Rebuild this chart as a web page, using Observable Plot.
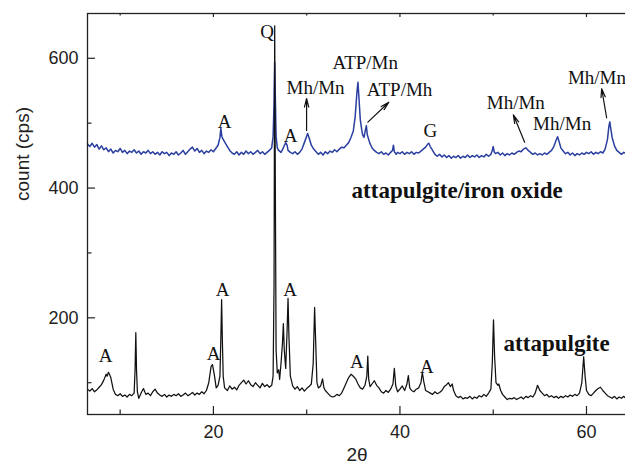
<!DOCTYPE html>
<html><head><meta charset="utf-8">
<script src="https://cdn.jsdelivr.net/npm/d3@7"></script>
<script src="https://cdn.jsdelivr.net/npm/@observablehq/plot@0.6"></script>
<style>body{margin:0;background:#fff}#chart{width:625px;height:471px;overflow:hidden}</style>
</head><body><div id="chart"></div>
<script>
// 2θ (deg), count (cps) — attapulgite (black)
const attapulgite = [
[6.5,90],[6.75,87],[7.0,91],[7.25,86],[7.5,89],[7.75,93],[8.0,97],[8.25,104],[8.5,113],[8.6,110],[8.75,116],[9.0,108],[9.25,90],[9.5,82],[9.75,80],
[10.0,83],[10.25,79],[10.5,81],[10.75,78],[11.0,82],[11.25,80],[11.5,84],[11.6,120],[11.68,177],[11.76,118],[11.85,86],[12.0,76],[12.25,84],[12.5,91],[12.75,82],
[13.0,84],[13.25,80],[13.5,86],[13.75,90],[14.0,84],[14.25,81],[14.5,79],[14.75,82],[15.0,78],[15.25,81],[15.5,79],[15.75,82],[16.0,80],[16.25,83],[16.5,79],
[16.75,81],[17.0,84],[17.25,80],[17.5,82],[17.75,85],[18.0,81],[18.25,84],[18.5,82],[18.75,86],[19.0,83],[19.25,88],[19.5,100],[19.75,125],[19.9,128],[20.1,112],
[20.3,92],[20.5,96],[20.7,110],[20.8,170],[20.88,228],[20.96,165],[21.05,110],[21.2,92],[21.5,88],[21.75,95],[22.0,90],[22.25,93],[22.5,89],[22.75,96],[23.0,100],
[23.25,104],[23.5,98],[23.75,103],[24.0,97],[24.25,94],[24.5,100],[24.75,96],[25.0,92],[25.25,99],[25.5,94],[25.75,97],[26.0,93],[26.25,96],[26.4,110],[26.5,250],
[26.57,650],[26.64,400],[26.72,150],[26.85,115],[27.0,120],[27.1,105],[27.25,130],[27.4,160],[27.5,191],[27.6,150],[27.75,122],[27.9,180],[28.0,230],[28.1,170],[28.25,110],
[28.5,95],[28.75,90],[29.0,94],[29.25,88],[29.5,92],[29.75,87],[30.0,91],[30.25,94],[30.5,98],[30.7,130],[30.85,216],[30.95,170],[31.1,100],[31.25,92],[31.5,95],
[31.7,106],[31.85,92],[32.0,88],[32.25,84],[32.5,80],[32.75,78],[33.0,79],[33.25,82],[33.5,80],[33.75,84],[34.0,92],[34.25,100],[34.5,108],[34.75,113],[35.0,110],
[35.25,106],[35.5,98],[35.75,92],[36.0,90],[36.25,96],[36.45,110],[36.55,141],[36.65,105],[36.8,94],[37.0,98],[37.25,103],[37.5,96],[37.75,92],[38.0,86],[38.25,84],
[38.5,88],[38.75,85],[39.0,90],[39.25,98],[39.4,122],[39.55,95],[39.75,86],[40.0,90],[40.25,95],[40.5,88],[40.75,98],[40.9,111],[41.05,92],[41.25,88],[41.5,86],
[41.75,90],[42.0,92],[42.25,100],[42.4,116],[42.55,102],[42.75,88],[43.0,86],[43.25,84],[43.5,82],[43.75,86],[44.0,83],[44.25,85],[44.5,88],[44.75,94],[45.0,97],
[45.2,100],[45.4,94],[45.6,98],[45.75,88],[46.0,80],[46.25,77],[46.5,79],[46.75,75],[47.0,77],[47.25,76],[47.5,79],[47.75,75],[48.0,78],[48.25,76],[48.5,80],
[48.75,78],[49.0,82],[49.25,79],[49.5,84],[49.75,90],[49.9,130],[50.03,197],[50.15,140],[50.3,100],[50.5,96],[50.6,98],[50.8,88],[51.0,82],[51.25,78],[51.5,74],
[51.75,76],[52.0,75],[52.25,77],[52.5,74],[52.75,76],[53.0,78],[53.25,75],[53.5,79],[53.75,77],[54.0,80],[54.25,78],[54.5,84],[54.75,96],[55.0,88],[55.25,84],
[55.5,80],[55.75,82],[56.0,78],[56.25,80],[56.5,77],[56.75,79],[57.0,76],[57.25,79],[57.5,77],[57.75,80],[58.0,78],[58.25,81],[58.5,79],[58.75,82],[59.0,80],
[59.25,84],[59.5,100],[59.7,140],[59.85,110],[60.0,88],[60.25,82],[60.5,80],[60.75,84],[61.0,88],[61.25,91],[61.5,93],[61.75,88],[62.0,84],[62.25,80],[62.5,78],
[62.75,76],[63.0,79],[63.25,75],[63.5,78],[63.75,76],[64.0,79],[64.25,75]
];
// 2θ (deg), count (cps) — attapulgite/iron oxide (blue)
const ironOxide = [
[6.5,468],[6.75,464],[7.0,469],[7.25,463],[7.5,467],[7.75,460],[8.0,465],[8.25,459],[8.5,462],[8.75,456],[9.0,460],[9.25,454],[9.5,458],[9.75,456],[10.0,461],
[10.25,455],[10.5,458],[10.75,453],[11.0,457],[11.25,455],[11.5,459],[11.75,454],[12.0,457],[12.25,452],[12.5,456],[12.75,454],[13.0,458],[13.25,453],[13.5,456],
[13.75,452],[14.0,455],[14.25,451],[14.5,456],[14.75,453],[15.0,455],[15.25,450],[15.5,454],[15.75,452],[16.0,456],[16.25,451],[16.5,454],[16.75,458],[17.0,452],
[17.25,456],[17.5,460],[17.75,463],[18.0,457],[18.25,461],[18.5,455],[18.75,458],[19.0,453],[19.25,457],[19.5,455],[19.75,459],[20.0,456],[20.25,461],[20.5,466],
[20.7,478],[20.8,492],[20.9,480],[21.0,476],[21.25,470],[21.5,464],[21.75,458],[22.0,454],[22.25,452],[22.5,456],[22.75,451],[23.0,455],[23.25,452],[23.5,457],
[23.75,453],[24.0,456],[24.25,452],[24.5,455],[24.75,458],[25.0,453],[25.25,456],[25.5,452],[25.75,455],[26.0,458],[26.25,462],[26.4,480],[26.5,530],[26.57,594],
[26.64,540],[26.72,480],[26.85,462],[27.0,458],[27.25,455],[27.5,462],[27.75,470],[27.9,466],[28.0,458],[28.25,455],[28.5,453],[28.75,456],[29.0,452],[29.25,455],
[29.5,460],[29.75,470],[30.0,480],[30.1,484],[30.25,478],[30.5,466],[30.75,460],[31.0,456],[31.25,452],[31.5,455],[31.75,451],[32.0,456],[32.25,453],[32.5,457],
[32.75,455],[33.0,459],[33.25,456],[33.5,460],[33.75,463],[34.0,462],[34.25,466],[34.5,470],[34.75,478],[35.0,488],[35.2,510],[35.4,550],[35.5,563],[35.6,540],
[35.75,505],[35.9,490],[36.0,482],[36.15,478],[36.3,490],[36.4,496],[36.5,482],[36.75,470],[37.0,462],[37.25,458],[37.5,455],[37.75,453],[38.0,456],[38.25,452],
[38.5,454],[38.75,451],[39.0,455],[39.2,458],[39.3,466],[39.4,456],[39.6,452],[39.75,455],[40.0,453],[40.25,456],[40.5,452],[40.75,455],[41.0,453],[41.25,456],
[41.5,452],[41.75,455],[42.0,454],[42.25,457],[42.5,460],[42.75,463],[43.0,468],[43.1,469],[43.25,464],[43.5,458],[43.75,452],[44.0,449],[44.25,452],[44.5,448],
[44.75,451],[45.0,447],[45.25,450],[45.5,446],[45.75,449],[46.0,447],[46.25,450],[46.5,446],[46.75,449],[47.0,447],[47.25,451],[47.5,447],[47.75,450],[48.0,448],
[48.25,451],[48.5,447],[48.75,450],[49.0,448],[49.25,452],[49.5,449],[49.75,452],[49.9,458],[50.0,464],[50.1,456],[50.25,453],[50.5,455],[50.75,451],[51.0,454],
[51.25,450],[51.5,453],[51.75,451],[52.0,454],[52.25,452],[52.5,455],[52.75,457],[53.0,456],[53.25,460],[53.5,462],[53.75,458],[54.0,455],[54.25,452],[54.5,454],
[54.75,451],[55.0,453],[55.25,451],[55.5,454],[55.75,452],[56.0,455],[56.25,458],[56.5,464],[56.75,474],[56.9,479],[57.05,472],[57.25,462],[57.5,457],[57.75,453],
[58.0,455],[58.25,451],[58.5,454],[58.75,450],[59.0,453],[59.25,451],[59.5,454],[59.75,452],[60.0,455],[60.25,453],[60.5,456],[60.75,452],[61.0,455],[61.25,453],
[61.5,456],[61.75,454],[62.0,460],[62.25,475],[62.4,495],[62.5,502],[62.6,492],[62.75,478],[63.0,465],[63.25,458],[63.5,455],[63.75,452],[64.0,455],[64.25,453]
];
const xTicks = [20, 40, 60];
const xMinorTicks = [10, 30, 50];
const yTicks = [200, 400, 600];
const yMinorTicks = [100, 300, 500];
// peak labels: [2θ, count, text]
const peakLabels = [
[25.77,630.5,"Q"],[21.19,491.8,"A"],[28.27,470.7,"A"],[30.95,544.2,"Mh/Mn"],[36.28,582.7,"ATP/Mn"],
[39.96,541.6,"ATP/Mh"],[43.25,478.4,"G"],[52.42,522.1,"Mh/Mn"],[57.39,488.7,"Mh/Mn"],[61.12,560.7,"Mh/Mn"],
[8.43,131.6,"A"],[20.01,134.3,"A"],[20.98,232.9,"A"],[28.22,232.9,"A"],[35.38,122.4,"A"],[42.89,115.3,"A"]
];
const sampleLabels = [[46.13,385.4,"attapulgite/iron oxide"],[56.8,148.6,"attapulgite"]];
// arrows: [2θ from, count from, 2θ to, count to]
const arrows = [
[29.99,488.7,29.99,538],[36.56,501.5,38.81,532.3],[53.37,470.7,52.16,512.9],[62.16,508.3,61.63,553.0]
];

const W = 625, H = 471, mL = 87, mT = 13, mB = 57, mR = -1;
const plotH = H - mT - mB, plotW = W - mL - mR;
const sans = "Liberation Sans, Arial, sans-serif";
const serif = "Liberation Serif, Times New Roman, serif";

const chart = Plot.plot({
  width: W, height: H,
  marginLeft: mL, marginTop: mT, marginBottom: mB, marginRight: mR,
  style: {fontFamily: sans, background: "#fff"},
  x: {domain: [6.5, 64.29]},
  y: {domain: [51, 669]},
  marks: [
    Plot.line(ironOxide, {x: d => d[0], y: d => d[1], stroke: "#2a3fa0", strokeWidth: 1.5}),
    Plot.line(attapulgite, {x: d => d[0], y: d => d[1], stroke: "#111", strokeWidth: 1.25}),
    Plot.frame({stroke: "#222", strokeWidth: 1.3}),
    Plot.tickX(xTicks, {x: d => d, insetTop: plotH - 8, stroke: "#222", strokeWidth: 1.2}),
    Plot.tickX(xMinorTicks, {x: d => d, insetTop: plotH - 4.5, stroke: "#222", strokeWidth: 1.2}),
    Plot.tickX(xTicks, {x: d => d, insetBottom: plotH - 4, stroke: "#222", strokeWidth: 1.2}),
    Plot.tickX(xMinorTicks, {x: d => d, insetBottom: plotH - 2.5, stroke: "#222", strokeWidth: 1.2}),
    Plot.tickY(yTicks, {y: d => d, insetRight: plotW - 8, stroke: "#222", strokeWidth: 1.2}),
    Plot.tickY(yMinorTicks, {y: d => d, insetRight: plotW - 4.5, stroke: "#222", strokeWidth: 1.2}),
    Plot.axisX({ticks: xTicks, tickSize: 0, tickPadding: 11, fontSize: 18, label: null, color: "#222"}),
    Plot.axisY({ticks: yTicks, tickSize: 0, tickPadding: 9, fontSize: 18, label: null, color: "#222"}),
    Plot.text(["count (cps)"], {frameAnchor: "left", dx: -65, dy: -13, rotate: -90, fontSize: 19, fill: "#222", fontFamily: sans}),
    Plot.text(["2θ"], {frameAnchor: "bottom", dy: 46, fontSize: 19, fill: "#222", fontFamily: sans}),
    Plot.arrow(arrows, {x1: d => d[0], y1: d => d[1], x2: d => d[2], y2: d => d[3], stroke: "#111", strokeWidth: 1.2, headLength: 11, headAngle: 28}),
    Plot.text(peakLabels, {x: d => d[0], y: d => d[1], text: d => d[2], fontFamily: serif, fontSize: 19, lineAnchor: "bottom", fill: "#111"}),
    Plot.text(sampleLabels, {x: d => d[0], y: d => d[1], text: d => d[2], fontFamily: serif, fontSize: 23, fontWeight: "bold", lineAnchor: "bottom", fill: "#111"})
  ]
});
document.getElementById("chart").appendChild(chart);
</script>
</body></html>
